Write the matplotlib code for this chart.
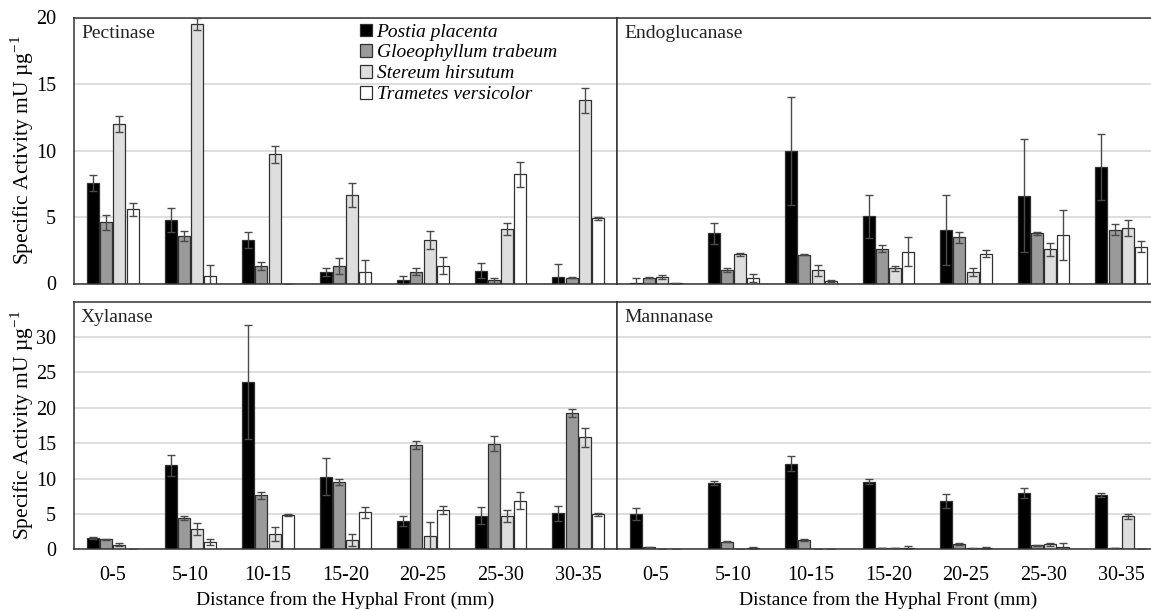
import numpy as np
import matplotlib.pyplot as plt
from matplotlib.patches import Patch

plt.rcParams['font.family'] = ['Liberation Serif', 'DejaVu Serif']
plt.rcParams['mathtext.fontset'] = 'custom'
plt.rcParams['mathtext.rm'] = 'Liberation Serif'

categories = ['0-5', '5-10', '10-15', '15-20', '20-25', '25-30', '30-35']
species = ['Postia placenta', 'Gloeophyllum trabeum', 'Stereum hirsutum', 'Trametes versicolor']
fill_colors = ['#000000', '#9a9a9a', '#dedede', '#ffffff']

# Pectinase
pec_postia = [7.57, 4.77, 3.30, 0.83, 0.25, 0.96, 0.48]
pec_postia_err = [0.58, 0.93, 0.60, 0.30, 0.30, 0.55, 0.98]
pec_gloeo = [4.60, 3.58, 1.31, 1.31, 0.90, 0.25, 0.43]
pec_gloeo_err = [0.57, 0.40, 0.28, 0.63, 0.23, 0.18, 0.05]
pec_stereum = [12.0, 19.5, 9.71, 6.63, 3.30, 4.11, 13.77]
pec_stereum_err = [0.60, 0.45, 0.65, 0.90, 0.68, 0.45, 0.93]
pec_trametes = [5.57, 0.58, 0.0, 0.83, 1.34, 8.22, 4.89]
pec_trametes_err = [0.50, 0.80, 0.0, 0.96, 0.66, 0.93, 0.10]

# Endoglucanase
endo_postia = [0.05, 3.76, 9.97, 5.06, 4.03, 6.59, 8.77]
endo_postia_err = [0.40, 0.78, 4.06, 1.63, 2.66, 4.24, 2.46]
endo_gloeo = [0.43, 1.05, 2.18, 2.63, 3.48, 3.76, 4.06]
endo_gloeo_err = [0.05, 0.15, 0.05, 0.25, 0.42, 0.14, 0.43]
endo_stereum = [0.50, 2.20, 1.00, 1.13, 0.83, 2.58, 4.18]
endo_stereum_err = [0.15, 0.10, 0.40, 0.22, 0.30, 0.50, 0.58]
endo_trametes = [0.02, 0.45, 0.20, 2.40, 2.25, 3.63, 2.78]
endo_trametes_err = [0.02, 0.30, 0.05, 1.10, 0.25, 1.90, 0.40]

# Xylanase
xyl_postia = [1.65, 11.85, 23.65, 10.25, 4.00, 4.75, 5.08]
xyl_postia_err = [0.14, 1.50, 8.04, 2.59, 0.70, 1.22, 1.03]
xyl_gloeo = [1.41, 4.42, 7.62, 9.50, 14.76, 14.95, 19.32]
xyl_gloeo_err = [0.08, 0.33, 0.52, 0.37, 0.52, 1.08, 0.56]
xyl_stereum = [0.66, 2.82, 2.21, 1.27, 1.93, 4.65, 15.84]
xyl_stereum_err = [0.20, 0.85, 0.99, 0.85, 1.93, 0.85, 1.36]
xyl_trametes = [0.05, 0.99, 4.84, 5.22, 5.55, 6.86, 4.94]
xyl_trametes_err = [0.0, 0.42, 0.10, 0.75, 0.61, 1.18, 0.20]

# Mannanase
man_postia = [4.95, 9.43, 12.08, 9.58, 6.84, 7.97, 7.69]
man_postia_err = [0.85, 0.28, 1.08, 0.42, 0.99, 0.76, 0.23]
man_gloeo = [0.28, 1.08, 1.32, 0.20, 0.75, 0.57, 0.15]
man_gloeo_err = [0.03, 0.10, 0.12, 0.05, 0.15, 0.08, 0.03]
man_stereum = [0.03, 0.05, 0.03, 0.20, 0.15, 0.71, 4.67]
man_stereum_err = [0.0, 0.0, 0.0, 0.05, 0.05, 0.24, 0.33]
man_trametes = [0.02, 0.20, 0.03, 0.25, 0.20, 0.38, 0.05]
man_trametes_err = [0.0, 0.10, 0.0, 0.15, 0.10, 0.47, 0.0]

panels = [
    ('Pectinase', [pec_postia, pec_gloeo, pec_stereum, pec_trametes],
     [pec_postia_err, pec_gloeo_err, pec_stereum_err, pec_trametes_err]),
    ('Endoglucanase', [endo_postia, endo_gloeo, endo_stereum, endo_trametes],
     [endo_postia_err, endo_gloeo_err, endo_stereum_err, endo_trametes_err]),
    ('Xylanase', [xyl_postia, xyl_gloeo, xyl_stereum, xyl_trametes],
     [xyl_postia_err, xyl_gloeo_err, xyl_stereum_err, xyl_trametes_err]),
    ('Mannanase', [man_postia, man_gloeo, man_stereum, man_trametes],
     [man_postia_err, man_gloeo_err, man_stereum_err, man_trametes_err]),
]

W, H = 1151, 611
fig = plt.figure(figsize=(W / 100, H / 100), dpi=100)

def box(left, top, right, bottom):
    return [left / W, 1 - bottom / H, (right - left) / W, (bottom - top) / H]

rects = [box(74, 17.5, 617, 283.5), box(617, 17.5, 1160, 283.5),
         box(74, 301.7, 617, 549.3), box(617, 301.7, 1160, 549.3)]
ylims = [20, 20, 35, 35]
yticks = [np.arange(0, 21, 5), np.arange(0, 21, 5), np.arange(0, 31, 5), np.arange(0, 31, 5)]

x = np.arange(len(categories))
bar_w = 0.155
step = 0.17
ylabel = r'Specific Activity mU µg$^{\mathregular{-1}}$'

for i, (name, vals, errs) in enumerate(panels):
    ax = fig.add_axes(rects[i])
    ax.set_xlim(-0.5, len(categories) - 0.5)
    ax.set_ylim(0, ylims[i])
    ax.set_yticks(yticks[i])
    ax.yaxis.grid(True, color='#d8d8d8', linewidth=1.2)
    ax.set_axisbelow(True)
    for k in range(4):
        ax.bar(x + (k - 1.5) * step, vals[k], bar_w, color=fill_colors[k],
               edgecolor='#303030', linewidth=0.9, zorder=2)
        ax.errorbar(x + (k - 1.5) * step, vals[k], yerr=errs[k], fmt='none',
                    ecolor='#4a4a4a', elinewidth=1.0, capsize=3, capthick=1.0,
                    zorder=3, clip_on=True)
    for s in ax.spines.values():
        s.set_color('#333333')
        s.set_linewidth(1.1)
    ax.tick_params(length=0, labelsize=14.5, pad=12)
    ax.tick_params(axis='y', pad=13)
    ax.annotate(name, xy=(0, 1), xycoords='axes fraction', xytext=(7, -15.5),
                textcoords='offset pixels', ha='left', va='center', fontsize=14,
                color='#222222')
    if i % 2 == 0:
        ax.set_ylabel(ylabel, fontsize=15.5, labelpad=0)
    else:
        ax.set_yticklabels([])
    if i < 2:
        ax.set_xticks(x)
        ax.set_xticklabels([])
    else:
        ax.set_xticks(x)
        ax.set_xticklabels(categories)
        ax.set_xlabel('Distance from the Hyphal Front (mm)', fontsize=14, labelpad=4.5)
    if i == 0:
        handles = [Patch(facecolor=fill_colors[k], edgecolor='#303030', linewidth=0.9)
                   for k in range(4)]
        ax.legend(handles, species, loc='upper left', bbox_to_anchor=(286 / 543, 1 - 6 / 266),
                  frameon=False, prop={'style': 'italic', 'size': 14},
                  handlelength=0.6, handleheight=0.6, handletextpad=0.25,
                  labelspacing=0.2, borderpad=0, borderaxespad=0)

fig.savefig('out.png', dpi=100)
